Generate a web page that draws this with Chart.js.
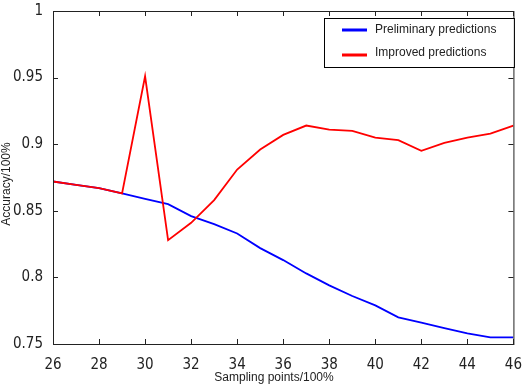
<!DOCTYPE html>
<html>
<head>
<meta charset="utf-8">
<script src="https://cdn.jsdelivr.net/npm/chart.js@4/dist/chart.umd.min.js"></script>
<style>
  html, body { margin: 0; padding: 0; background: #fff; }
  #wrap { width: 526px; height: 388px; }
</style>
</head>
<body>
<div id="wrap"><canvas id="chart" width="526" height="388"></canvas></div>
<script>
const samplingPoints = [26, 27, 28, 29, 30, 31, 32, 33, 34, 35, 36, 37, 38, 39, 40, 41, 42, 43, 44, 45, 46];
const preliminary = [0.872, 0.8695, 0.867, 0.863, 0.859, 0.855, 0.846, 0.840, 0.833, 0.822, 0.813,
  0.803, 0.794, 0.786, 0.779, 0.770, 0.766, 0.762, 0.758, 0.755, 0.755];
const improved = [0.872, 0.8695, 0.867, 0.863, 0.951, 0.828, 0.841, 0.858, 0.881, 0.896, 0.907,
  0.914, 0.911, 0.910, 0.905, 0.903, 0.895, 0.901, 0.905, 0.908, 0.914];
const xTicks = [26, 28, 30, 32, 34, 36, 38, 40, 42, 44, 46];
const yTicks = [0.75, 0.8, 0.85, 0.9, 0.95, 1];
const yTickLabels = ["0.75", "0.8", "0.85", "0.9", "0.95", "1"];
const xTitle = "Sampling points/100%";
const yTitle = "Accuracy/100%";

const tickFont = { family: "'Liberation Sans Narrow', 'DejaVu Sans Condensed', 'Liberation Sans'", size: 15 };
const textFont = { family: "'Liberation Sans', Arial", size: 12 };

function toPoints(values) {
  return samplingPoints.map((x, i) => ({ x: x, y: values[i] }));
}

// box around the plot with matlab style inward ticks, legend and axis titles
const framePlugin = {
  id: "frame",
  afterDraw(chart) {
    const ctx = chart.ctx;
    const a = chart.chartArea;
    const xs = chart.scales.x;
    const ys = chart.scales.y;
    const len = 5;
    ctx.save();
    ctx.strokeStyle = "#222";
    ctx.lineWidth = 1;
    ctx.strokeRect(a.left + 0.5, a.top + 0.5, a.right - a.left, a.bottom - a.top);
    ctx.beginPath();
    xTicks.forEach((t) => {
      const px = Math.round(xs.getPixelForValue(t)) + 0.5;
      ctx.moveTo(px, a.bottom);
      ctx.lineTo(px, a.bottom - len);
      ctx.moveTo(px, a.top);
      ctx.lineTo(px, a.top + len);
    });
    yTicks.forEach((t) => {
      const py = Math.round(ys.getPixelForValue(t)) + 0.5;
      ctx.moveTo(a.left, py);
      ctx.lineTo(a.left + len, py);
      ctx.moveTo(a.right, py);
      ctx.lineTo(a.right - len, py);
    });
    ctx.stroke();

    ctx.font = textFont.size + "px " + textFont.family;
    ctx.fillStyle = "#222";
    ctx.textAlign = "center";
    ctx.textBaseline = "middle";
    ctx.fillText(xTitle, 274, 378);
    ctx.save();
    ctx.translate(7, 184);
    ctx.rotate(-Math.PI / 2);
    ctx.fillText(yTitle, 0, 0);
    ctx.restore();

    // legend box
    const bx = 324, by = 18, bw = a.right - bx + 0.5, bh = 49;
    ctx.fillStyle = "#fff";
    ctx.fillRect(bx, by, bw, bh);
    ctx.strokeStyle = "#000";
    ctx.strokeRect(bx + 0.5, by + 0.5, bw, bh);
    const rows = [30, 53];
    ctx.textAlign = "left";
    chart.data.datasets.forEach((ds, i) => {
      const ly = rows[i] + (i === 1 ? 2 : 0);
      ctx.strokeStyle = ds.borderColor;
      ctx.lineWidth = 3;
      ctx.beginPath();
      ctx.moveTo(342, ly);
      ctx.lineTo(367, ly);
      ctx.stroke();
      ctx.fillStyle = "#222";
      ctx.fillText(ds.label, 375, rows[i]);
    });
    ctx.restore();
  },
};

new Chart(document.getElementById("chart"), {
  type: "line",
  data: {
    datasets: [
      {
        label: "Preliminary predictions",
        data: toPoints(preliminary),
        borderColor: "#0000ff",
        borderWidth: 1.8,
        pointRadius: 0,
        tension: 0,
        order: 1,
      },
      {
        label: "Improved predictions",
        data: toPoints(improved),
        borderColor: "#ff0000",
        borderWidth: 1.8,
        pointRadius: 0,
        tension: 0,
        order: 0,
      },
    ],
  },
  options: {
    responsive: false,
    animation: false,
    layout: { padding: { top: 7, right: 9, left: 0, bottom: 0 } },
    plugins: { legend: { display: false }, tooltip: { enabled: false } },
    scales: {
      x: {
        type: "linear",
        min: 26,
        max: 46,
        afterBuildTicks: (scale) => { scale.ticks = xTicks.map((v) => ({ value: v })); },
        afterFit: (scale) => { scale.height = 44; },
        ticks: { color: "#222", font: tickFont, padding: 4, maxRotation: 0, autoSkip: false },
        grid: { display: false },
        border: { display: false },
      },
      y: {
        min: 0.75,
        max: 1,
        afterBuildTicks: (scale) => { scale.ticks = yTicks.map((v) => ({ value: v })); },
        afterFit: (scale) => { scale.width = 53; },
        ticks: {
          color: "#222",
          font: tickFont,
          padding: 2,
          autoSkip: false,
          callback: (v) => yTickLabels[yTicks.indexOf(v)],
        },
        grid: { display: false },
        border: { display: false },
      },
    },
  },
  plugins: [framePlugin],
});
</script>
</body>
</html>
